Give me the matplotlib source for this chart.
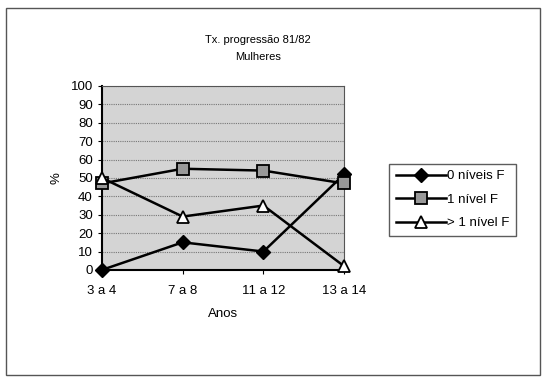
import numpy as np
import matplotlib.pyplot as plt
from matplotlib.patches import Rectangle

plt.rcParams['font.family'] = ['Liberation Sans', 'DejaVu Sans']

categorias = ['3 a 4', '7 a 8', '11 a 12', '13 a 14']
zero_niveis = [0, 15, 10, 52]
um_nivel = [47, 55, 54, 47]
mais_um_nivel = [50, 29, 35, 2]
yticks = list(range(0, 101, 10))

fig = plt.figure(figsize=(5.42, 3.77), dpi=100)
fig.patches.append(Rectangle((0.011, 0.005), 0.986, 0.973, transform=fig.transFigure,
                             fill=False, edgecolor='#555555', linewidth=1))

ax = fig.add_axes([0.188, 0.284, 0.447, 0.488])
ax.set_facecolor('#d4d4d4')
x = np.arange(len(categorias))
ax.plot(x, zero_niveis, color='black', lw=1.8, marker='D', ms=7.5,
        mfc='black', mec='black', label='0 níveis F', clip_on=False, zorder=5)
ax.plot(x, um_nivel, color='black', lw=1.8, marker='s', ms=8.5,
        mfc='#999999', mec='black', mew=1.3, label='1 nível F', clip_on=False, zorder=5)
ax.plot(x, mais_um_nivel, color='black', lw=1.8, marker='^', ms=9,
        mfc='white', mec='black', mew=1.3, label='> 1 nível F', clip_on=False, zorder=5)

ax.set_xlim(0, len(categorias) - 1)
ax.set_ylim(0, 100)
ax.set_yticks(yticks)
ax.set_xticks(x)
ax.set_xticklabels(categorias)
ax.yaxis.grid(True, color='#777777', lw=0.8, ls=(0, (1, 1)))
ax.set_axisbelow(True)
for s in ['top', 'right']:
    ax.spines[s].set_color('#555555')
for s in ['left', 'bottom']:
    ax.spines[s].set_linewidth(1.5)
ax.tick_params(labelsize=9.5, length=3)
ax.tick_params(axis='x', pad=8)
ax.set_xlabel('Anos', fontsize=9.5, labelpad=8)
ax.set_ylabel('%', fontsize=9.5, labelpad=6)

fig.text(0.476, 0.895, 'Tx. progressão 81/82', ha='center', va='center', fontsize=8)
fig.text(0.476, 0.85, 'Mulheres', ha='center', va='center', fontsize=8)

leg = fig.legend(loc='center left', bbox_to_anchor=(0.718, 0.47), frameon=True,
                 fancybox=False, edgecolor='#333333', fontsize=9.5, handlelength=3.8,
                 handletextpad=0.1, borderpad=0.5, labelspacing=0.85, borderaxespad=0)
leg.get_frame().set_linewidth(1)

fig.savefig('out.png', dpi=100)
